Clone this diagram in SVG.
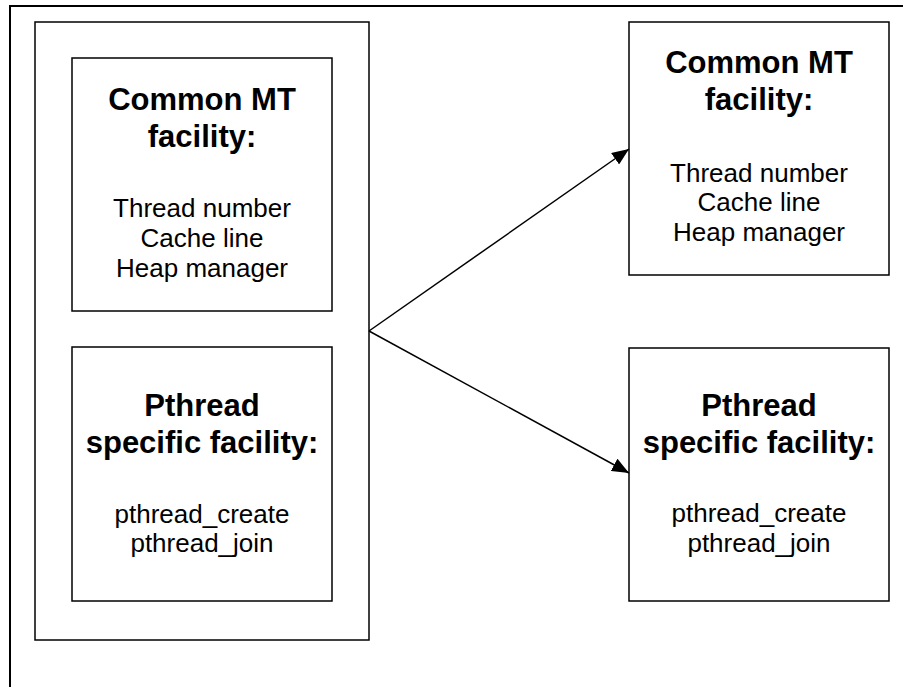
<svg xmlns="http://www.w3.org/2000/svg" width="903" height="687" viewBox="0 0 903 687">
  <style>
    .box { fill: #ffffff; stroke: #000000; stroke-width: 1.5; }
    .frame { fill: #ffffff; stroke: #000000; stroke-width: 2; }
    .title { font-family: "Liberation Sans", Arial, sans-serif; font-weight: bold; font-size: 31px; text-anchor: middle; fill: #000000; }
    .item { font-family: "Liberation Sans", Arial, sans-serif; font-size: 26px; text-anchor: middle; fill: #000000; }
    .link { fill: none; stroke: #000000; stroke-width: 1.5; }
  </style>
  <defs>
    <marker id="arrow" markerUnits="userSpaceOnUse" markerWidth="18" markerHeight="14" refX="17" refY="7" orient="auto">
      <path d="M0,0 L17,7 L0,14 Z" fill="#000000"/>
    </marker>
  </defs>

  <!-- page frame: runs past the right and bottom edges of the canvas -->
  <rect class="frame" x="10" y="6" width="1000" height="1000"/>

  <!-- left container holding both facilities -->
  <g id="container">
    <rect class="box" x="35" y="22" width="334" height="618"/>
  </g>

  <g id="common-left">
    <rect class="box" x="72" y="58" width="260" height="253"/>
    <text class="title" x="202" y="110">Common MT</text>
    <text class="title" x="202" y="147">facility:</text>
    <text class="item" x="202" y="217">Thread number</text>
    <text class="item" x="202" y="247">Cache line</text>
    <text class="item" x="202" y="277">Heap manager</text>
  </g>

  <g id="pthread-left">
    <rect class="box" x="72" y="347" width="260" height="254"/>
    <text class="title" x="202" y="416">Pthread</text>
    <text class="title" x="202" y="453">specific facility:</text>
    <text class="item" x="202" y="523">pthread_create</text>
    <text class="item" x="202" y="552">pthread_join</text>
  </g>

  <g id="common-right">
    <rect class="box" x="629" y="22" width="260" height="253"/>
    <text class="title" x="759" y="73">Common MT</text>
    <text class="title" x="759" y="110">facility:</text>
    <text class="item" x="759" y="182">Thread number</text>
    <text class="item" x="759" y="211">Cache line</text>
    <text class="item" x="759" y="241">Heap manager</text>
  </g>

  <g id="pthread-right">
    <rect class="box" x="629" y="348" width="260" height="253"/>
    <text class="title" x="759" y="416">Pthread</text>
    <text class="title" x="759" y="453">specific facility:</text>
    <text class="item" x="759" y="522">pthread_create</text>
    <text class="item" x="759" y="552">pthread_join</text>
  </g>

  <g id="connectors">
    <line class="link" x1="369" y1="331" x2="629" y2="149" marker-end="url(#arrow)"/>
    <line class="link" x1="369" y1="331" x2="629" y2="473" marker-end="url(#arrow)"/>
  </g>
</svg>
